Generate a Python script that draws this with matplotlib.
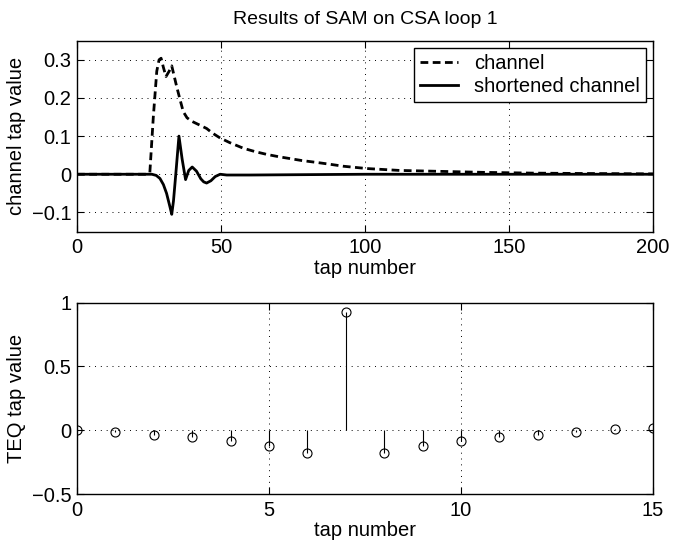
import numpy as np
import matplotlib
matplotlib.use('Agg')
import matplotlib.pyplot as plt

plt.rcParams['font.family'] = ['Liberation Sans', 'DejaVu Sans']
plt.rcParams['font.size'] = 14.5

# channel impulse response (dashed)
ch_tap = [0, 24, 25.3, 26.5, 27.7, 28.5, 29.2, 30, 30.9, 32, 32.9, 34.6, 35.8, 36.9, 38.2,
          39.8, 42, 45, 47, 49.7, 53, 57.8, 62, 65.9, 70, 74, 78, 83.2, 88, 92.5,
          100.6, 112, 123.7, 141, 158, 175, 200]
ch_val = [0, 0, 0.005, 0.15, 0.27, 0.30, 0.304, 0.28, 0.256, 0.27, 0.284, 0.23, 0.195, 0.164, 0.148,
          0.139, 0.131, 0.12, 0.108, 0.095, 0.083, 0.068, 0.059, 0.052, 0.046, 0.041, 0.036, 0.031, 0.026, 0.021,
          0.015, 0.010, 0.008, 0.005, 0.003, 0.002, 0.001]

# shortened channel (solid)
sh_tap = [0, 26, 27.5, 28.8, 30, 31.1, 32.3, 32.9, 33.5, 34.3, 35.4, 36.5, 37.7, 38.8, 40,
          41.5, 43, 44, 45, 46.5, 48, 49.7, 52, 60, 80, 100, 200]
sh_val = [0, 0, -0.003, -0.011, -0.027, -0.05, -0.086, -0.105, -0.07, 0.0, 0.1, 0.04, -0.014, 0.01, 0.019,
          0.008, -0.012, -0.02, -0.023, -0.017, -0.006, 0.0, -0.002, -0.002, -0.001, 0, 0]

# TEQ taps
teq_n = list(range(16))
teq_val = [0.005, -0.016, -0.034, -0.055, -0.083, -0.127, -0.182, 0.93,
           -0.182, -0.127, -0.083, -0.055, -0.034, -0.013, 0.008, 0.021]

fig = plt.figure(figsize=(6.73, 5.46), dpi=100)

ax1 = fig.add_axes([0.1144, 0.576, 0.8559, 0.3495])
ax1.plot(ch_tap, ch_val, 'k--', lw=2, dashes=(2.8, 1.6), label='channel')
ax1.plot(sh_tap, sh_val, 'k-', lw=2, label='shortened channel')
ax1.set_xlim(0, 200)
ax1.set_ylim(-0.15, 0.35)
ax1.set_xticks([0, 50, 100, 150, 200])
ax1.set_yticks([-0.1, 0, 0.1, 0.2, 0.3])
ax1.set_yticklabels(['\u22120.1', '0', '0.1', '0.2', '0.3'])
ax1.set_xlabel('tap number', labelpad=1)
ax1.set_ylabel('channel tap value', labelpad=4)
ax1.set_title('Results of SAM on CSA loop 1', fontsize=14, pad=12)
leg = ax1.legend(loc='upper right', fancybox=False, framealpha=1, edgecolor='k',
                 borderaxespad=0.35, handlelength=1.9, borderpad=0.3, labelspacing=0.2)
leg.get_frame().set_linewidth(1)

ax2 = fig.add_axes([0.1144, 0.0952, 0.8559, 0.3504])
mk, st, bl = ax2.stem(teq_n, teq_val, linefmt='k-', markerfmt='ko', basefmt=' ')
mk.set_markerfacecolor('none')
mk.set_markersize(6.5)
mk.set_markeredgewidth(0.8)
st.set_linewidth(0.8)
ax2.set_xlim(0, 15)
ax2.set_ylim(-0.5, 1)
ax2.set_xticks([0, 5, 10, 15])
ax2.set_yticks([-0.5, 0, 0.5, 1])
ax2.set_yticklabels(['\u22120.5', '0', '0.5', '1'])
ax2.set_xlabel('tap number', labelpad=1)
ax2.set_ylabel('TEQ tap value', labelpad=4)

for ax in [ax1, ax2]:
    ax.grid(True, color='k', linestyle=(0, (1, 5)), linewidth=0.7)
    ax.tick_params(direction='in', length=5, width=0.8, top=True, right=True, pad=5)
    ax.tick_params(axis='y', pad=4)
    for s in ax.spines.values():
        s.set_linewidth(1)
    ax.set_axisbelow(True)

plt.savefig('out.png', dpi=100)
